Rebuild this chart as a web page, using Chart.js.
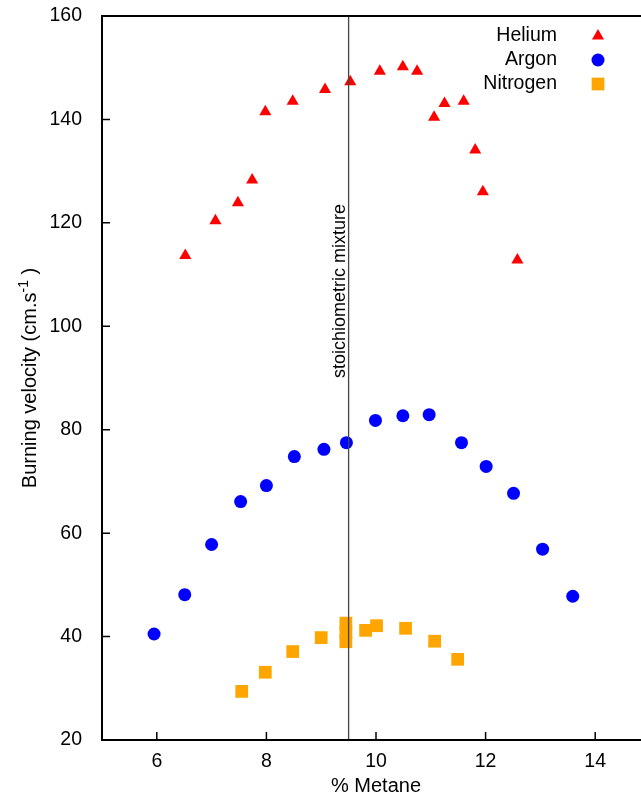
<!DOCTYPE html>
<html>
<head>
<meta charset="utf-8">
<script src="https://cdn.jsdelivr.net/npm/chart.js@4/dist/chart.umd.min.js"></script>
<style>
  html, body { margin: 0; padding: 0; background: #fff; overflow: hidden; }
  #wrap { width: 641px; height: 798px; overflow: hidden; }
</style>
</head>
<body>
<div id="wrap"><canvas id="myChart" width="660" height="798"></canvas></div>
<script>
// % methane vs burning velocity, three diluents
const heliumX = [6.52, 7.07, 7.48, 7.74, 7.98, 8.48, 9.07, 9.53, 10.07, 10.49, 10.75, 11.06, 11.25, 11.60, 11.81, 11.95, 12.58];
const heliumY = [113.7, 120.4, 123.9, 128.3, 141.5, 143.5, 145.8, 147.3, 149.3, 150.2, 149.3, 140.4, 143.1, 143.5, 134.1, 126.0, 112.8];

const argonX = [5.95, 6.51, 7.00, 7.53, 8.00, 8.51, 9.05, 9.46, 9.99, 10.49, 10.97, 11.56, 12.01, 12.51, 13.04, 13.59];
const argonY = [40.5, 48.1, 57.8, 66.1, 69.2, 74.8, 76.2, 77.5, 81.8, 82.7, 82.9, 77.5, 72.9, 67.7, 56.9, 47.8];

const nitrogenX = [7.55, 7.98, 8.48, 9.00, 9.45, 9.45, 9.45, 9.81, 10.01, 10.54, 11.07, 11.49];
const nitrogenY = [29.4, 33.1, 37.1, 39.8, 42.6, 40.8, 39.0, 41.2, 42.1, 41.6, 39.1, 35.6];

const seriesNames = ["Helium", "Argon", "Nitrogen"];
const xTicks = [6, 8, 10, 12, 14];
const yTicks = [20, 40, 60, 80, 100, 120, 140, 160];

const stoichX = 9.5;      // stoichiometric methane fraction
const stoichLabelY = 90;  // where the rotated label starts

const FONT = "'Liberation Sans', Arial, Helvetica, sans-serif";

const toPoints = (xs, ys) => xs.map((x, i) => ({ x: x, y: ys[i] }));

// frame, inward ticks, marker line, legend and y title
const decorations = {
  id: "decorations",
  afterDatasetsDraw(chart) {
    const ctx = chart.ctx;
    const a = chart.chartArea;
    const xs = chart.scales.x;
    const ys = chart.scales.y;

    // stoichiometric line
    const sx = xs.getPixelForValue(stoichX);
    ctx.save();
    ctx.strokeStyle = "#444";
    ctx.lineWidth = 1.3;
    ctx.beginPath();
    ctx.moveTo(sx, a.top);
    ctx.lineTo(sx, a.bottom);
    ctx.stroke();

    ctx.translate(sx - 4, ys.getPixelForValue(stoichLabelY));
    ctx.rotate(-Math.PI / 2);
    ctx.font = "18px " + FONT;
    ctx.fillStyle = "#000";
    ctx.textAlign = "left";
    ctx.textBaseline = "alphabetic";
    ctx.fillText("stoichiometric mixture", 0, 0);
    ctx.restore();

    // border
    ctx.save();
    ctx.strokeStyle = "#000";
    ctx.lineWidth = 2;
    ctx.strokeRect(a.left, a.top, a.right - a.left, a.bottom - a.top);

    ctx.lineWidth = 1.5;
    ctx.beginPath();
    xs.ticks.forEach((t) => {
      const px = xs.getPixelForValue(t.value);
      ctx.moveTo(px, a.bottom);
      ctx.lineTo(px, a.bottom - 8);
    });
    ys.ticks.forEach((t) => {
      const py = ys.getPixelForValue(t.value);
      ctx.moveTo(a.left, py);
      ctx.lineTo(a.left + 8, py);
    });
    ctx.stroke();
    ctx.restore();

    // legend: text right aligned, marker on the right
    ctx.save();
    ctx.font = "19.5px " + FONT;
    ctx.textAlign = "right";
    ctx.textBaseline = "middle";
    chart.data.datasets.forEach((ds, i) => {
      const ly = a.top + 20 + i * 24;
      ctx.fillStyle = "#000";
      ctx.fillText(ds.label, 557, ly);
      ctx.fillStyle = ds.backgroundColor;
      Chart.helpers.drawPoint(ctx, {
        pointStyle: ds.pointStyle,
        radius: ds.pointRadius,
        rotation: 0,
        borderWidth: 0
      }, 598, ly);
    });
    ctx.restore();

    // y title with superscript
    ctx.save();
    const main = "Burning velocity (cm.s";
    const sup = "-1";
    const tail = " )";
    ctx.font = "20px " + FONT;
    const w1 = ctx.measureText(main).width;
    const w3 = ctx.measureText(tail).width;
    ctx.font = "14px " + FONT;
    const w2 = ctx.measureText(sup).width;
    const total = w1 + w2 + w3;
    ctx.translate(36, (a.top + a.bottom) / 2);
    ctx.rotate(-Math.PI / 2);
    ctx.fillStyle = "#000";
    ctx.textAlign = "left";
    ctx.textBaseline = "alphabetic";
    let cx = -total / 2;
    ctx.font = "20px " + FONT;
    ctx.fillText(main, cx, 0);
    cx += w1;
    ctx.font = "14px " + FONT;
    ctx.fillText(sup, cx, -8);
    cx += w2;
    ctx.font = "20px " + FONT;
    ctx.fillText(tail, cx, 0);
    ctx.restore();
  }
};

new Chart("myChart", {
  type: "scatter",
  data: {
    datasets: [
      {
        label: seriesNames[0],
        data: toPoints(heliumX, heliumY),
        pointStyle: "triangle",
        pointRadius: 7,
        backgroundColor: "#ff0000",
        borderWidth: 0
      },
      {
        label: seriesNames[1],
        data: toPoints(argonX, argonY),
        pointStyle: "circle",
        pointRadius: 6.5,
        backgroundColor: "#0000ff",
        borderWidth: 0
      },
      {
        label: seriesNames[2],
        data: toPoints(nitrogenX, nitrogenY),
        pointStyle: "rect",
        pointRadius: 9,
        backgroundColor: "#ffa500",
        borderWidth: 0
      }
    ]
  },
  options: {
    responsive: false,
    animation: false,
    events: [],
    layout: { padding: { top: 16, right: 10, left: 0, bottom: 0 } },
    plugins: {
      legend: { display: false },
      tooltip: { enabled: false }
    },
    scales: {
      x: {
        type: "linear",
        min: 5,
        max: 15,
        grid: { display: false },
        border: { display: false },
        afterBuildTicks: (scale) => { scale.ticks = xTicks.map((v) => ({ value: v })); },
        afterFit: (scale) => {
          scale.height = 58;
          scale.paddingLeft = 0;
          scale.paddingRight = 0;
        },
        ticks: {
          font: { family: FONT, size: 19.5 },
          color: "#000",
          padding: 2,
          maxRotation: 0
        },
        title: {
          display: true,
          text: "% Metane",
          font: { family: FONT, size: 20 },
          color: "#000",
          padding: { top: 0, bottom: 0 }
        }
      },
      y: {
        type: "linear",
        min: 20,
        max: 160,
        grid: { display: false },
        border: { display: false },
        afterBuildTicks: (scale) => { scale.ticks = yTicks.map((v) => ({ value: v })); },
        afterFit: (scale) => {
          scale.width = 102;
          scale.paddingTop = 0;
          scale.paddingBottom = 0;
        },
        ticks: {
          font: { family: FONT, size: 19.5 },
          color: "#000",
          padding: 12
        }
      }
    }
  },
  plugins: [decorations]
});
</script>
</body>
</html>
